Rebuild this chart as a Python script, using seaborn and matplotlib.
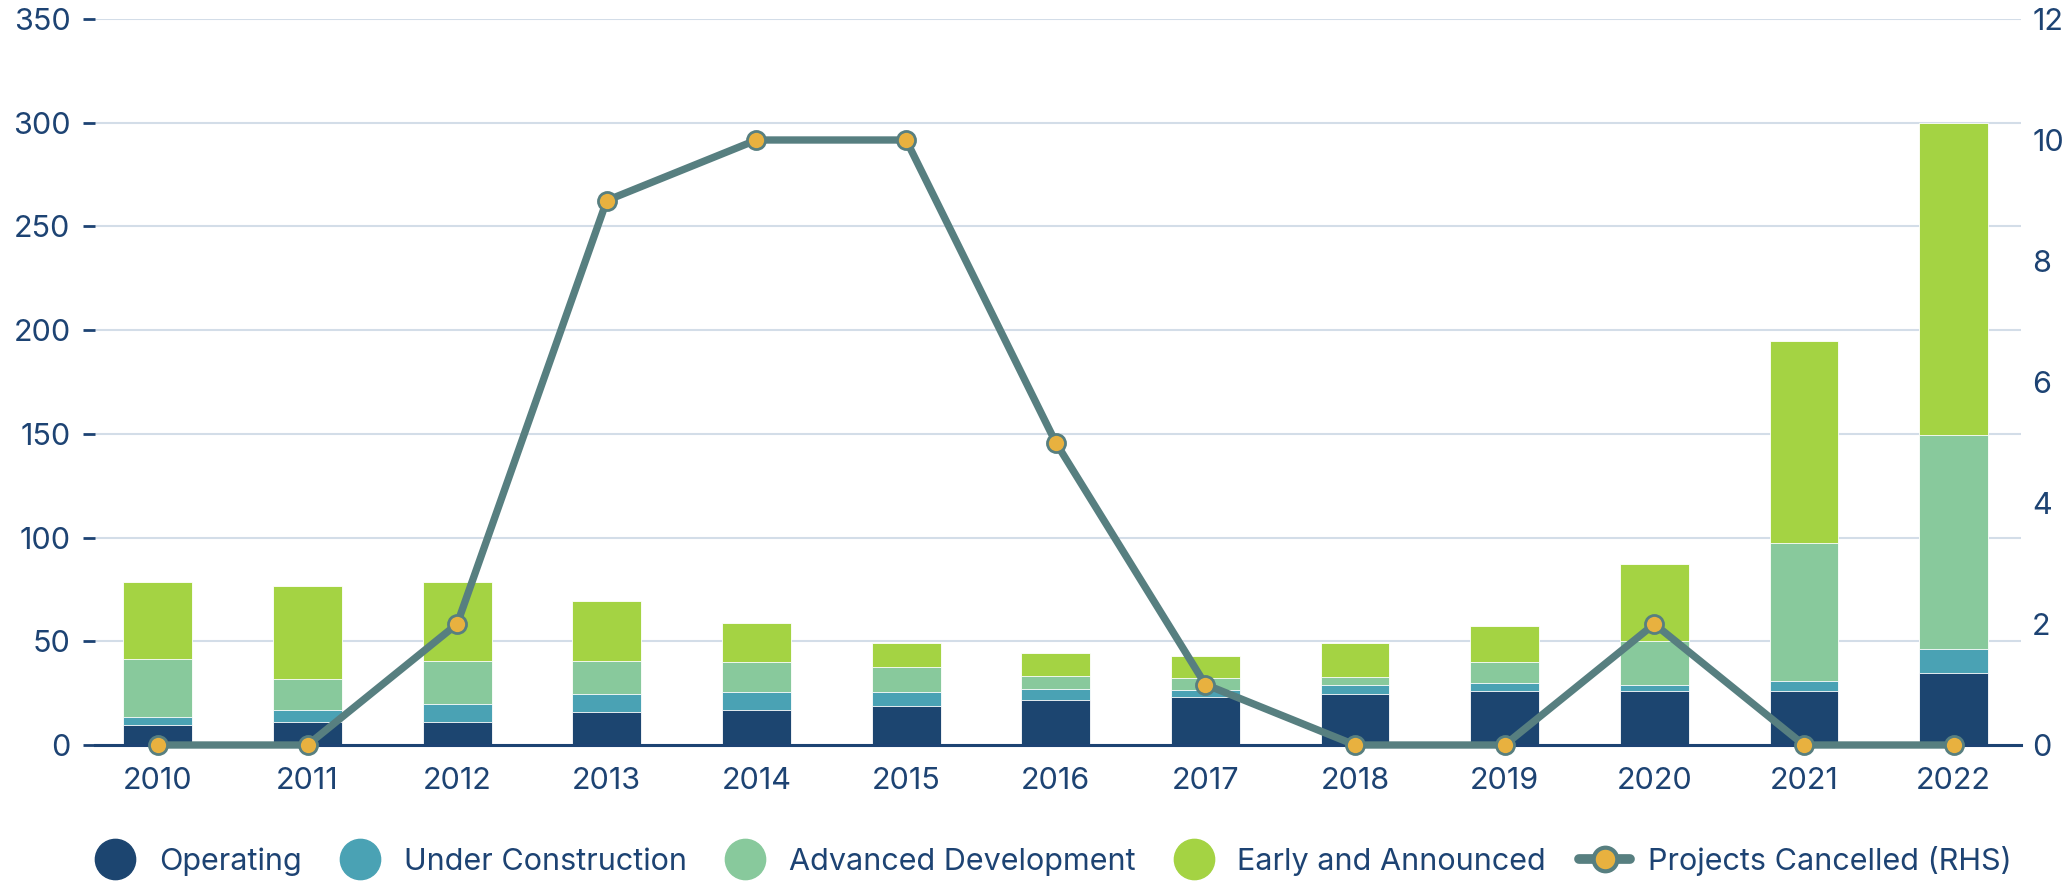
import numpy as np
import pandas as pd
import seaborn as sns
import matplotlib.pyplot as plt
from matplotlib.lines import Line2D

sns.set_theme(style="white")
plt.rcParams["font.family"] = ["Inter", "DejaVu Sans"]

years = ["2010", "2011", "2012", "2013", "2014", "2015", "2016",
         "2017", "2018", "2019", "2020", "2021", "2022"]
operating = [9.5, 11, 11, 16, 17, 19, 21.5, 23, 24.5, 26, 26, 26, 34.5]
under_construction = [4, 6, 9, 8.5, 8.5, 6.5, 5.5, 3.5, 4.5, 4, 3, 5, 12]
advanced = [28, 15, 20.5, 16, 14.5, 12, 6.5, 6, 4, 10, 21, 66.5, 103]
early = [37, 44.5, 38, 29, 19, 11.5, 11, 10.5, 16, 17.5, 37.5, 97.5, 150.5]
cancelled = [0, 0, 2, 9, 10, 10, 5, 1, 0, 0, 2, 0, 0]

series = ["Operating", "Under Construction", "Advanced Development", "Early and Announced"]
colors = ["#1c4570", "#4aa2b4", "#88c99c", "#a4d343"]
text_col = "#1d4373"
line_col = "#577f80"
dot_col = "#e8b13f"

df = pd.DataFrame({"year": years, "Operating": operating,
                   "Under Construction": under_construction,
                   "Advanced Development": advanced,
                   "Early and Announced": early})
cum = df[series].cumsum(axis=1)

fig = plt.figure(figsize=(20.72, 8.81), dpi=100)
ax = fig.add_axes([95 / 2072, 1 - 745 / 881, (2021 - 95) / 2072, (745 - 19) / 881])

# stacked bars: draw cumulative totals from the top segment down
for name, col in zip(series[::-1], colors[::-1]):
    sns.barplot(x=df["year"], y=cum[name], color=col, saturation=1, width=0.46,
                edgecolor="white", linewidth=0.6, ax=ax)

ax.set_ylim(0, 350)
ax.set_yticks(range(0, 351, 50))
ax.set_xlim(-0.42, 12.45)
ax.set_xlabel("")
ax.set_ylabel("")
ax.grid(axis="y", color="#d3dde8", linewidth=1.5)
ax.set_axisbelow(True)
for s in ["top", "right", "left"]:
    ax.spines[s].set_visible(False)
ax.spines["bottom"].set_color(text_col)
ax.spines["bottom"].set_linewidth(2.2)
ax.tick_params(axis="y", left=True, length=8.6, width=2, color=text_col,
               pad=9, labelsize=22, labelcolor=text_col)
ax.tick_params(axis="x", bottom=False, length=0, pad=16, labelsize=22,
               labelcolor=text_col)

ax2 = ax.twinx()
sns.pointplot(x=df["year"], y=cancelled, color=line_col, errorbar=None,
              markers="o", linewidth=5.3, markersize=13, markeredgewidth=2,
              markerfacecolor=dot_col, markeredgecolor=line_col,
              ax=ax2, clip_on=False, zorder=5)
ax2.set_ylim(0, 12)
ax2.set_yticks(range(0, 13, 2))
ax2.set_xlim(-0.42, 12.45)
ax2.set_ylabel("")
ax2.grid(False)
for s in ["top", "right", "left", "bottom"]:
    ax2.spines[s].set_visible(False)
ax2.tick_params(axis="y", right=True, length=0, pad=8, labelsize=22,
                labelcolor=text_col)

handles = [Line2D([], [], linestyle="none", marker="o", markersize=29,
                  markerfacecolor=c, markeredgecolor=c) for c in colors]
handles.append(Line2D([], [], color=line_col, linewidth=7, solid_capstyle="round",
                      marker="o", markersize=17, markerfacecolor=dot_col,
                      markeredgecolor=line_col, markeredgewidth=3))
labels = series + ["Projects Cancelled (RHS)"]
leg = fig.legend(handles, labels, loc="center", bbox_to_anchor=(1051 / 2072, 1 - 861 / 881),
                 ncol=5, frameon=False, fontsize=22, handlelength=1.65,
                 handletextpad=0.6, columnspacing=1.09)
for t in leg.get_texts():
    t.set_color(text_col)

fig.savefig("out.png", dpi=100)
plt.close(fig)
